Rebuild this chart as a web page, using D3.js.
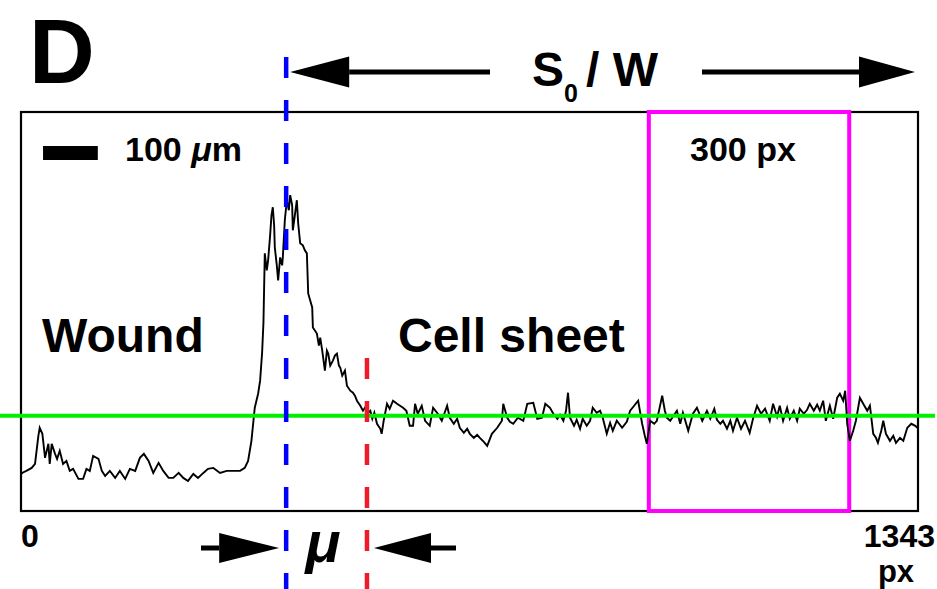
<!DOCTYPE html>
<html><head><meta charset="utf-8">
<script src="https://cdn.jsdelivr.net/npm/d3@7"></script>
<style>
html,body{margin:0;padding:0;background:#fff;}
svg{display:block;font-family:"Liberation Sans",Arial,Helvetica,sans-serif;font-weight:bold;}
</style>
</head><body>
<svg id="chart" width="937" height="589"></svg>
<script>
// ---------- data ----------
const imageWidthPx = 1343;          // x extent of the profile (px)
const intensityMax = 199;           // y extent (a.u.)
const thresholdLevel = 47.5;        // green threshold
const peakPx = 397;                 // blue dashed marker (peak)
const edgePx = 518;                 // red dashed marker (sheet edge)
const windowPx = [940, 1240];       // 300 px reference window
const scaleBarPx = 82;              // 100 µm scale bar length in px
const axisTickLabels = ["0", "1343"];
const panelLabel = "D";
const regionLabels = ["Wound", "Cell sheet"];

// intensity profile: [position (px), intensity (a.u.)]
const profile = [
[0,18.5],[3,19.2],[8,20],[16,21.5],[21,23.5],[26,37.5],[28,41.5],[32,38.5],[36,26.5],[41,33.5],
[43,23.5],[46,33.5],[51,28.5],[54,26],[58,30],[63,23.5],[68,25],[73,20],[78,21],[86,16],
[93,16],[98,21],[103,20],[108,27.5],[116,26],[121,20],[126,17.5],[133,20],[141,16.5],[148,20],
[156,16],[163,21],[171,20],[178,26.5],[184,28.5],[191,25],[198,19],[206,24],[213,20],[221,16.5],
[228,16.5],[236,19],[243,16.5],[250,15],[258,18.5],[265,16.5],[273,19],[280,21],[288,21.5],[298,19],
[308,20],[318,20],[328,20],[335,21.5],[340,25],[345,35],[350,51.5],[355,58.5],[358,65],
[361,79],[363,94],[365,128.5],[368,120],[370,125],[373,137.5],[375,147.5],[377,151.5],[379,142.5],[380,131.5],
[383,122.5],[385,115],[388,126.5],[391,122.5],[392,126.5],[395,145],[398,155],[401,150],[403,157.5],[406,152.5],
[407,140],[410,147.5],[413,155],[415,143.5],[418,133.5],[422,132.5],[425,130],[428,128.5],[430,108.5],[433,105],
[436,101.5],[437,91.5],[440,90],[443,88.5],[446,82.5],[448,86.5],[451,80],[454,72.5],[455,70],[458,80],
[460,78.5],[463,72.5],[467,75],[470,77.5],[473,78.5],[476,72.5],[478,71.5],[481,67.5],[485,70],[488,62.5],
[493,60],[497,59],[500,57.5],[503,55],[508,52.5],[512,50],[517,52.5],[520,49],[523,50],[526,46],
[529,49],[533,43.5],[538,41],[540,38.5],[543,45],[548,53.5],[552,51],[557,55],[563,53.5],
[572,51.5],[577,50],[582,42.5],[587,42.5],[590,53.5],[594,48.5],[600,52.5],[605,45],[612,42.5],[617,51.5],
[624,48.5],[630,45],[638,52.5],[642,46.5],[648,43.5],[653,46],[657,41.5],[663,39],[668,41],[672,38.5],
[678,36.5],[683,38],[687,36.5],[693,34.5],[698,32.5],[705,38.5],[713,41.5],[720,45],[722,53.5],[728,46.5],
[732,44.5],[737,43.5],[744,46.5],[752,45],[758,53.5],[767,54],[773,46],[780,46.5],[785,53.5],[792,51.5],
[797,48.5],[803,46],[807,48],[812,45],[816,50],[819,59],[822,46.5],[828,42.5],[832,45.5],[837,41],
[841,46],[847,42.5],[852,45],[856,51.5],[862,49],[867,50],[871,46.5],[877,38.5],[882,44],[886,40],
[892,45],[900,41.5],[907,44.5],[912,50],[918,52.5],[924,55],[930,43.5],[934,37.5],[937,33.5],[942,45],
[948,43.5],[952,45],[960,57.5],[964,50],[967,46.5],[972,45],[976,47],[982,50],[987,43.5],[991,49],
[999,40],[1006,48.5],[1012,51.5],[1020,45],[1027,50],[1032,46],[1038,51],[1042,45.5],[1047,43.5],[1051,45],
[1057,41],[1062,45],[1066,40],[1072,46.5],[1078,41],[1084,45],[1091,39],[1096,46],[1102,52.5],[1108,48.5],
[1114,51],[1121,45],[1126,53.5],[1132,47],[1136,52.5],[1141,45],[1147,51.5],[1151,46],[1157,50],[1162,45],
[1166,51],[1172,48.5],[1177,50.5],[1181,53.5],[1187,50],[1192,53],[1196,50],[1201,55],[1205,45],[1211,52.5],
[1216,46],[1222,56.5],[1226,58.5],[1231,55],[1234,60],[1237,43.5],[1241,35],[1246,40],[1250,45],[1256,56.5],
[1261,53.5],[1267,50],[1271,52.5],[1276,38.5],[1280,36.5],[1283,34],[1288,40],[1291,45],[1295,38.5],[1301,35],
[1306,37.5],[1310,34],[1316,36.5],[1321,35],[1327,41.5],[1333,43.5],[1339,42.5],[1342,41.5]
];

// ---------- drawing ----------
const W = 937, H = 589;
const svg = d3.select("#chart");
const x = d3.scaleLinear().domain([0, imageWidthPx]).range([21, 918]);
const y = d3.scaleLinear().domain([0, intensityMax]).range([511, 112]);

// plot frame
svg.append("rect")
  .attr("x", x(0)).attr("y", y(intensityMax))
  .attr("width", x(imageWidthPx) - x(0)).attr("height", y(0) - y(intensityMax))
  .attr("fill", "#fff").attr("stroke", "#000").attr("stroke-width", 2.2);

// 300 px window
svg.append("rect")
  .attr("x", x(windowPx[0])).attr("y", y(intensityMax))
  .attr("width", x(windowPx[1]) - x(windowPx[0])).attr("height", y(0) - y(intensityMax))
  .attr("fill", "none").attr("stroke", "#ff00ff").attr("stroke-width", 4);

// profile
svg.append("path").datum(profile)
  .attr("d", d3.line().x(d => x(d[0])).y(d => y(d[1])))
  .attr("fill", "none").attr("stroke", "#000").attr("stroke-width", 1.9)
  .attr("stroke-linejoin", "miter");

// threshold
svg.append("line")
  .attr("x1", 0).attr("x2", 935)
  .attr("y1", y(thresholdLevel)).attr("y2", y(thresholdLevel))
  .attr("stroke", "#00f000").attr("stroke-width", 4);

// dashed markers
svg.append("line")
  .attr("x1", x(peakPx)).attr("x2", x(peakPx)).attr("y1", 57).attr("y2", H)
  .attr("stroke", "#0000ff").attr("stroke-width", 4.5).attr("stroke-dasharray", "21,22");
svg.append("line")
  .attr("x1", x(edgePx)).attr("x2", x(edgePx)).attr("y1", 57 + 43 * 7).attr("y2", H)
  .attr("stroke", "#ee1c2a").attr("stroke-width", 4.5).attr("stroke-dasharray", "21,22");

// arrows
function arrow(xTail, xTip, yy, headLen, headHalf, sw) {
  const dir = Math.sign(xTip - xTail);
  const xBase = xTip - dir * headLen;
  svg.append("line").attr("x1", xTail).attr("x2", xBase).attr("y1", yy).attr("y2", yy)
    .attr("stroke", "#000").attr("stroke-width", sw);
  svg.append("path")
    .attr("d", `M${xTip},${yy}L${xBase},${yy - headHalf}L${xBase},${yy + headHalf}Z`)
    .attr("fill", "#000");
}
arrow(490, x(peakPx) + 4, 72, 59, 15.5, 5);
arrow(702, x(imageWidthPx) - 3, 72, 56, 15.5, 5);
arrow(201, x(peakPx) - 7, 548, 60, 15, 5);
arrow(456, x(edgePx) + 7, 548, 57, 15, 5);

// scale bar
svg.append("rect")
  .attr("x", x(33)).attr("y", 146)
  .attr("width", x(33 + scaleBarPx) - x(33)).attr("height", 14)
  .attr("fill", "#000");

// texts
const t = (txt, tx, ty, size, anchor) => svg.append("text")
  .attr("x", tx).attr("y", ty).attr("font-size", size)
  .attr("text-anchor", anchor || "start").attr("fill", "#000").text(txt);

t(panelLabel, 29, 82.5, 91);
const sb = t("100 ", 125, 161, 34);
sb.append("tspan").attr("font-style", "italic").text("μ");
sb.append("tspan").text("m");
t("300 px", 690, 161, 34);
t(regionLabels[0], 42, 352, 48);
t(regionLabels[1], 398, 352, 48);
t("S", 532, 86, 48);
t("0", 564, 102, 25);
t("/ W", 586, 86, 48);
t(axisTickLabels[0], 21, 547, 32);
t(axisTickLabels[1], 935, 547, 32, "end");
t("px", 896, 582, 31, "middle");
t("μ", 323, 562, 58, "middle").attr("font-style", "italic");
</script>
</body></html>
